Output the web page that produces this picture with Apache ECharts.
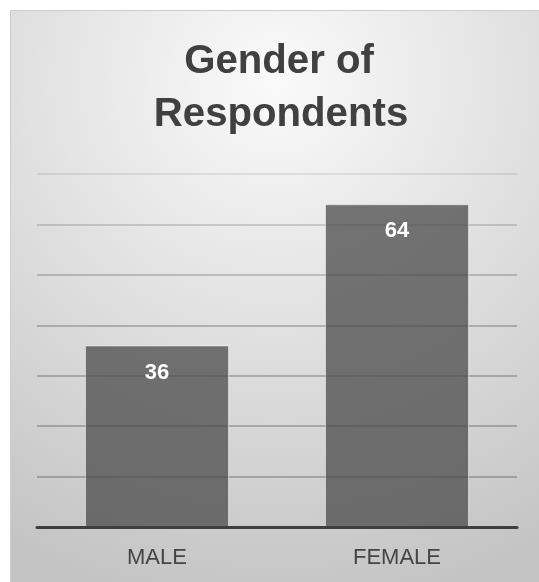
<!DOCTYPE html>
<html>
<head>
<meta charset="utf-8">
<script src="https://cdn.jsdelivr.net/npm/echarts@6/dist/echarts.min.js"></script>
<style>
  html, body { margin: 0; padding: 0; background: #ffffff; }
  #chart { width: 539px; height: 582px; }
</style>
</head>
<body>
<div id="chart"></div>
<script>
const titleLines = ['Gender of', 'Respondents'];
const categories = ['MALE', 'FEMALE'];
const values = [36, 64];
const yMin = 0;
const yMax = 70;
const yInterval = 10;

const chart = echarts.init(document.getElementById('chart'), null, { renderer: 'canvas' });

const FONT = '"Liberation Sans", Arial, Helvetica, sans-serif';

const option = {
  animation: false,
  backgroundColor: '#ffffff',
  graphic: [
    {
      type: 'rect',
      z: -10,
      silent: true,
      shape: { x: 10.5, y: 10.5, width: 530, height: 574 },
      style: {
        fill: {
          type: 'radial', x: 0.5, y: 0.12, r: 1.0,
          colorStops: [
            { offset: 0, color: '#fafafa' },
            { offset: 0.45, color: '#e2e2e2' },
            { offset: 1, color: '#c4c4c4' }
          ]
        },
        stroke: '#cdcdcd',
        lineWidth: 1
      }
    },
    {
      type: 'text', z: 10, x: 279, y: 62, scaleX: 1.03, scaleY: 1.04,
      style: {
        text: titleLines[0], fontFamily: FONT, fontSize: 39, fontWeight: 'bold',
        fill: '#404040', align: 'center', verticalAlign: 'middle'
      }
    },
    {
      type: 'text', z: 10, x: 281, y: 115, scaleX: 1.03, scaleY: 1.04,
      style: {
        text: titleLines[1], fontFamily: FONT, fontSize: 39, fontWeight: 'bold',
        fill: '#404040', align: 'center', verticalAlign: 'middle'
      }
    }
  ],
  grid: { left: 37, right: 22, top: 174, bottom: 55, containLabel: false },
  xAxis: {
    type: 'category',
    data: categories,
    z: 5,
    axisLine: { show: true, lineStyle: { color: '#3f3f3f', width: 3 } },
    axisTick: { show: false },
    axisLabel: { fontFamily: FONT, fontSize: 22, color: '#454545', margin: 20 },
    splitLine: { show: false }
  },
  yAxis: {
    type: 'value',
    min: yMin, max: yMax, interval: yInterval,
    axisLine: { show: false },
    axisTick: { show: false },
    axisLabel: { show: false },
    splitLine: {
      show: true,
      lineStyle: {
        width: 2,
        color: [
          'rgba(0,0,0,0)',
          'rgba(0,0,0,0.22)',
          'rgba(0,0,0,0.22)',
          'rgba(0,0,0,0.22)',
          'rgba(0,0,0,0.21)',
          'rgba(0,0,0,0.18)',
          'rgba(0,0,0,0.15)',
          'rgba(0,0,0,0.08)'
        ]
      }
    }
  },
  series: [{
    type: 'bar',
    data: values,
    barWidth: '60%',
    itemStyle: {
      color: 'rgba(76,76,76,0.76)',
      borderColor: 'rgba(255,255,255,0.5)',
      borderWidth: 1
    },
    label: {
      show: true,
      position: 'insideTop',
      distance: 16,
      color: '#ffffff',
      fontFamily: FONT,
      fontSize: 22,
      fontWeight: 'bold'
    }
  }]
};

chart.setOption(option);
</script>
</body>
</html>
